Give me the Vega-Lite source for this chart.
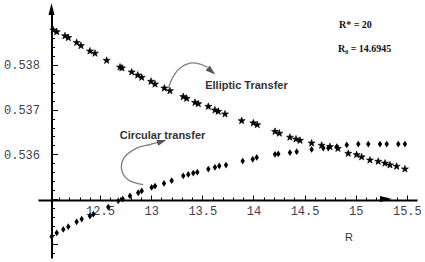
{
  "$schema": "https://vega.github.io/schema/vega-lite/v6.json",
  "width": 379,
  "height": 248,
  "autosize": {"type": "none"},
  "padding": {"left": 38, "top": 10, "right": 8, "bottom": 4},
  "background": "white",
  "config": {"view": {"stroke": null}, "axis": {"grid": false}},
  "datasets": {
    "elliptic": [
      {"R": 12.043, "value": 0.53878}, {"R": 12.077, "value": 0.53874}, {"R": 12.158, "value": 0.53865},
      {"R": 12.190, "value": 0.53861}, {"R": 12.272, "value": 0.53850}, {"R": 12.314, "value": 0.53843},
      {"R": 12.402, "value": 0.53831}, {"R": 12.451, "value": 0.53826}, {"R": 12.565, "value": 0.53810},
      {"R": 12.696, "value": 0.53795}, {"R": 12.715, "value": 0.53793}, {"R": 12.810, "value": 0.53784},
      {"R": 12.869, "value": 0.53777}, {"R": 12.908, "value": 0.53772}, {"R": 12.999, "value": 0.53763},
      {"R": 13.038, "value": 0.53757}, {"R": 13.129, "value": 0.53748}, {"R": 13.184, "value": 0.53742},
      {"R": 13.314, "value": 0.53729}, {"R": 13.347, "value": 0.53725}, {"R": 13.429, "value": 0.53716},
      {"R": 13.461, "value": 0.53713}, {"R": 13.559, "value": 0.53707}, {"R": 13.624, "value": 0.53699},
      {"R": 13.656, "value": 0.53696}, {"R": 13.722, "value": 0.53690}, {"R": 13.885, "value": 0.53675},
      {"R": 13.999, "value": 0.53670}, {"R": 14.038, "value": 0.53666}, {"R": 14.211, "value": 0.53651},
      {"R": 14.253, "value": 0.53647}, {"R": 14.357, "value": 0.53638}, {"R": 14.416, "value": 0.53634},
      {"R": 14.455, "value": 0.53631}, {"R": 14.569, "value": 0.53625}, {"R": 14.667, "value": 0.53620},
      {"R": 14.748, "value": 0.53617}, {"R": 14.826, "value": 0.53613}, {"R": 14.927, "value": 0.53602},
      {"R": 15.009, "value": 0.53599}, {"R": 15.058, "value": 0.53594}, {"R": 15.139, "value": 0.53587},
      {"R": 15.220, "value": 0.53584}, {"R": 15.286, "value": 0.53580}, {"R": 15.335, "value": 0.53576},
      {"R": 15.400, "value": 0.53573}, {"R": 15.481, "value": 0.53567}
    ],
    "circular": [
      {"R": 12.028, "value": 0.53416}, {"R": 12.077, "value": 0.53424}, {"R": 12.141, "value": 0.53432},
      {"R": 12.190, "value": 0.53438}, {"R": 12.272, "value": 0.53449}, {"R": 12.321, "value": 0.53455},
      {"R": 12.402, "value": 0.53462}, {"R": 12.435, "value": 0.53466}, {"R": 12.581, "value": 0.53482},
      {"R": 12.679, "value": 0.53496}, {"R": 12.722, "value": 0.53500}, {"R": 12.793, "value": 0.53507},
      {"R": 12.874, "value": 0.53514}, {"R": 12.908, "value": 0.53518}, {"R": 13.005, "value": 0.53526},
      {"R": 13.038, "value": 0.53529}, {"R": 13.126, "value": 0.53535}, {"R": 13.201, "value": 0.53541},
      {"R": 13.314, "value": 0.53552}, {"R": 13.363, "value": 0.53555}, {"R": 13.412, "value": 0.53558},
      {"R": 13.451, "value": 0.53560}, {"R": 13.559, "value": 0.53567}, {"R": 13.624, "value": 0.53571},
      {"R": 13.666, "value": 0.53574}, {"R": 13.732, "value": 0.53576}, {"R": 13.895, "value": 0.53585},
      {"R": 13.993, "value": 0.53589}, {"R": 14.032, "value": 0.53593}, {"R": 14.211, "value": 0.53600},
      {"R": 14.243, "value": 0.53601}, {"R": 14.357, "value": 0.53604}, {"R": 14.423, "value": 0.53606},
      {"R": 14.569, "value": 0.53611}, {"R": 14.683, "value": 0.53614}, {"R": 14.732, "value": 0.53614},
      {"R": 14.814, "value": 0.53617}, {"R": 14.912, "value": 0.53621}, {"R": 15.025, "value": 0.53623},
      {"R": 15.123, "value": 0.53623}, {"R": 15.237, "value": 0.53623}, {"R": 15.303, "value": 0.53623},
      {"R": 15.416, "value": 0.53623}, {"R": 15.481, "value": 0.53623}
    ],
    "arrows": [
      {"arrow": "elliptic", "i": 0, "R": 13.168, "value": 0.53748},
      {"arrow": "elliptic", "i": 1, "R": 13.216, "value": 0.53774},
      {"arrow": "elliptic", "i": 2, "R": 13.282, "value": 0.53793},
      {"arrow": "elliptic", "i": 3, "R": 13.380, "value": 0.53804},
      {"arrow": "elliptic", "i": 4, "R": 13.478, "value": 0.53802},
      {"arrow": "elliptic", "i": 5, "R": 13.550, "value": 0.53795},
      {"arrow": "circular", "i": 0, "R": 12.923, "value": 0.53532},
      {"arrow": "circular", "i": 1, "R": 12.774, "value": 0.53543},
      {"arrow": "circular", "i": 2, "R": 12.712, "value": 0.53565},
      {"arrow": "circular", "i": 3, "R": 12.735, "value": 0.53592},
      {"arrow": "circular", "i": 4, "R": 12.859, "value": 0.53614},
      {"arrow": "circular", "i": 5, "R": 12.989, "value": 0.53622},
      {"arrow": "circular", "i": 6, "R": 13.070, "value": 0.53627}
    ],
    "heads": [
      {"head": "elliptic", "R": 13.590, "value": 0.53786},
      {"head": "circular", "R": 13.105, "value": 0.53629},
      {"head": "yaxis", "R": 12.026, "value": 0.53925},
      {"head": "xaxis", "R": 15.296, "value": 0.535}
    ],
    "notes": [
      {"kind": "transfer", "text": "Elliptic Transfer", "R": 13.932, "value": 0.53753},
      {"kind": "transfer", "text": "Circular transfer", "R": 13.111, "value": 0.53641},
      {"kind": "param", "text": "R* = 20", "R": 14.836, "value": 0.53889},
      {"kind": "param", "text": "R₀ = 14.6945", "R": 14.826, "value": 0.53836},
      {"kind": "axis", "text": "R", "R": 14.934, "value": 0.53413}
    ]
  },
  "layer": [
    {
      "data": {"name": "elliptic"},
      "mark": {"type": "point", "shape": "M0,-1L0.235,-0.324L0.951,-0.309L0.38,0.124L0.588,0.809L0,0.4L-0.588,0.809L-0.38,0.124L-0.951,-0.309L-0.235,-0.324Z", "filled": true, "color": "black", "stroke": "black", "strokeWidth": 0.6, "size": 55, "opacity": 1},
      "encoding": {
        "x": {"field": "R", "type": "quantitative", "scale": {"domain": [11.894, 15.599], "nice": false, "zero": false},
          "axis": {"orient": "bottom", "offset": -58, "values": [12.5, 13, 13.5, 14, 14.5, 15, 15.5], "labelExpr": "'' + datum.value", "tickSize": -5, "tickColor": "black", "tickWidth": 1, "domainColor": "black", "domainWidth": 2, "labelFont": "Liberation Mono", "labelFontSize": 12, "labelColor": "#3d4150", "labelPadding": 10, "labelFlush": false, "labelOverlap": false, "title": null, "grid": false}},
        "y": {"field": "value", "type": "quantitative", "scale": {"domain": [0.53368, 0.53923], "nice": false, "zero": false},
          "axis": {"orient": "left", "offset": -13.5, "values": [0.534, 0.535, 0.536, 0.537, 0.538], "labelExpr": "datum.value > 0.5355 ? format(datum.value, '.3f') : ''", "tickSize": -6, "tickColor": "black", "tickWidth": 1, "domainColor": "black", "domainWidth": 2, "labelFont": "Liberation Mono", "labelFontSize": 12, "labelColor": "#3d4150", "labelPadding": 18, "labelFlush": false, "labelOverlap": false, "title": null, "grid": false}}
      }
    },
    {
      "data": {"name": "circular"},
      "mark": {"type": "point", "shape": "M0,-1L0.65,0L0,1L-0.65,0Z", "filled": true, "color": "black", "size": 46, "opacity": 1},
      "encoding": {
        "x": {"field": "R", "type": "quantitative", "scale": {"domain": [11.894, 15.599], "nice": false, "zero": false},
          "axis": {"orient": "bottom", "offset": -58, "values": [12.1, 12.2, 12.3, 12.4, 12.5, 12.6, 12.7, 12.8, 12.9, 13.0, 13.1, 13.2, 13.3, 13.4, 13.5, 13.6, 13.7, 13.8, 13.9, 14.0, 14.1, 14.2, 14.3, 14.4, 14.5, 14.6, 14.7, 14.8, 14.9, 15.0, 15.1, 15.2, 15.3, 15.4, 15.5], "labels": false, "domain": false, "tickSize": -3, "tickColor": "black", "tickWidth": 1, "title": null, "grid": false}},
        "y": {"field": "value", "type": "quantitative", "scale": {"domain": [0.53368, 0.53923], "nice": false, "zero": false},
          "axis": {"orient": "left", "offset": -13.5, "values": [0.5338, 0.534, 0.5342, 0.5344, 0.5346, 0.5348, 0.535, 0.5352, 0.5354, 0.5356, 0.5358, 0.536, 0.5362, 0.5364, 0.5366, 0.5368, 0.537, 0.5372, 0.5374, 0.5376, 0.5378, 0.538, 0.5382, 0.5384, 0.5386, 0.5388], "labels": false, "domain": false, "tickSize": -3, "tickColor": "black", "tickWidth": 1, "title": null, "grid": false}}
      }
    },
    {
      "data": {"name": "arrows"},
      "mark": {"type": "line", "interpolate": "catmull-rom", "color": "#808080", "strokeWidth": 1.3},
      "encoding": {
        "x": {"field": "R", "type": "quantitative", "scale": {"domain": [11.894, 15.599], "nice": false, "zero": false}, "axis": null},
        "y": {"field": "value", "type": "quantitative", "scale": {"domain": [0.53368, 0.53923], "nice": false, "zero": false}, "axis": null},
        "detail": {"field": "arrow"},
        "order": {"field": "i", "type": "quantitative"}
      }
    },
    {
      "data": {"name": "heads"},
      "transform": [{"filter": "datum.head == 'elliptic'"}],
      "mark": {"type": "point", "shape": "M1,0L-1,-0.65L-1,0.65Z", "filled": true, "color": "#555555", "size": 100, "opacity": 1, "angle": 40},
      "encoding": {
        "x": {"field": "R", "type": "quantitative", "scale": {"domain": [11.894, 15.599], "nice": false, "zero": false}, "axis": null},
        "y": {"field": "value", "type": "quantitative", "scale": {"domain": [0.53368, 0.53923], "nice": false, "zero": false}, "axis": null}
      }
    },
    {
      "data": {"name": "heads"},
      "transform": [{"filter": "datum.head == 'circular'"}],
      "mark": {"type": "point", "shape": "M1,0L-1,-0.65L-1,0.65Z", "filled": true, "color": "#555555", "size": 90, "opacity": 1, "angle": -18},
      "encoding": {
        "x": {"field": "R", "type": "quantitative", "scale": {"domain": [11.894, 15.599], "nice": false, "zero": false}, "axis": null},
        "y": {"field": "value", "type": "quantitative", "scale": {"domain": [0.53368, 0.53923], "nice": false, "zero": false}, "axis": null}
      }
    },
    {
      "data": {"name": "heads"},
      "transform": [{"filter": "datum.head == 'yaxis'"}],
      "mark": {"type": "point", "shape": "M0,-1L0.5,1L-0.5,1Z", "filled": true, "color": "black", "size": 144, "opacity": 1},
      "encoding": {
        "x": {"field": "R", "type": "quantitative", "scale": {"domain": [11.894, 15.599], "nice": false, "zero": false}, "axis": null},
        "y": {"field": "value", "type": "quantitative", "scale": {"domain": [0.53368, 0.53923], "nice": false, "zero": false}, "axis": null}
      }
    },
    {
      "data": {"name": "heads"},
      "transform": [{"filter": "datum.head == 'xaxis'"}],
      "mark": {"type": "point", "shape": "M1,0L-1,-0.5L-1,0.5Z", "filled": true, "color": "black", "size": 144, "opacity": 1},
      "encoding": {
        "x": {"field": "R", "type": "quantitative", "scale": {"domain": [11.894, 15.599], "nice": false, "zero": false}, "axis": null},
        "y": {"field": "value", "type": "quantitative", "scale": {"domain": [0.53368, 0.53923], "nice": false, "zero": false}, "axis": null}
      }
    },
    {
      "data": {"name": "notes"},
      "transform": [{"filter": "datum.kind == 'transfer'"}],
      "mark": {"type": "text", "font": "Liberation Sans", "fontSize": 11, "fontWeight": "bold", "color": "#333333", "align": "center", "baseline": "middle"},
      "encoding": {
        "x": {"field": "R", "type": "quantitative", "scale": {"domain": [11.894, 15.599], "nice": false, "zero": false}, "axis": null},
        "y": {"field": "value", "type": "quantitative", "scale": {"domain": [0.53368, 0.53923], "nice": false, "zero": false}, "axis": null},
        "text": {"field": "text"}
      }
    },
    {
      "data": {"name": "notes"},
      "transform": [{"filter": "datum.kind == 'param'"}],
      "mark": {"type": "text", "font": "Liberation Serif", "fontSize": 10, "fontWeight": "bold", "color": "#111111", "align": "left", "baseline": "middle"},
      "encoding": {
        "x": {"field": "R", "type": "quantitative", "scale": {"domain": [11.894, 15.599], "nice": false, "zero": false}, "axis": null},
        "y": {"field": "value", "type": "quantitative", "scale": {"domain": [0.53368, 0.53923], "nice": false, "zero": false}, "axis": null},
        "text": {"field": "text"}
      }
    },
    {
      "data": {"name": "notes"},
      "transform": [{"filter": "datum.kind == 'axis'"}],
      "mark": {"type": "text", "font": "Liberation Sans", "fontSize": 11, "color": "#333333", "align": "center", "baseline": "middle"},
      "encoding": {
        "x": {"field": "R", "type": "quantitative", "scale": {"domain": [11.894, 15.599], "nice": false, "zero": false}, "axis": null},
        "y": {"field": "value", "type": "quantitative", "scale": {"domain": [0.53368, 0.53923], "nice": false, "zero": false}, "axis": null},
        "text": {"field": "text"}
      }
    }
  ],
  "resolve": {"axis": {"x": "independent", "y": "independent"}}
}
